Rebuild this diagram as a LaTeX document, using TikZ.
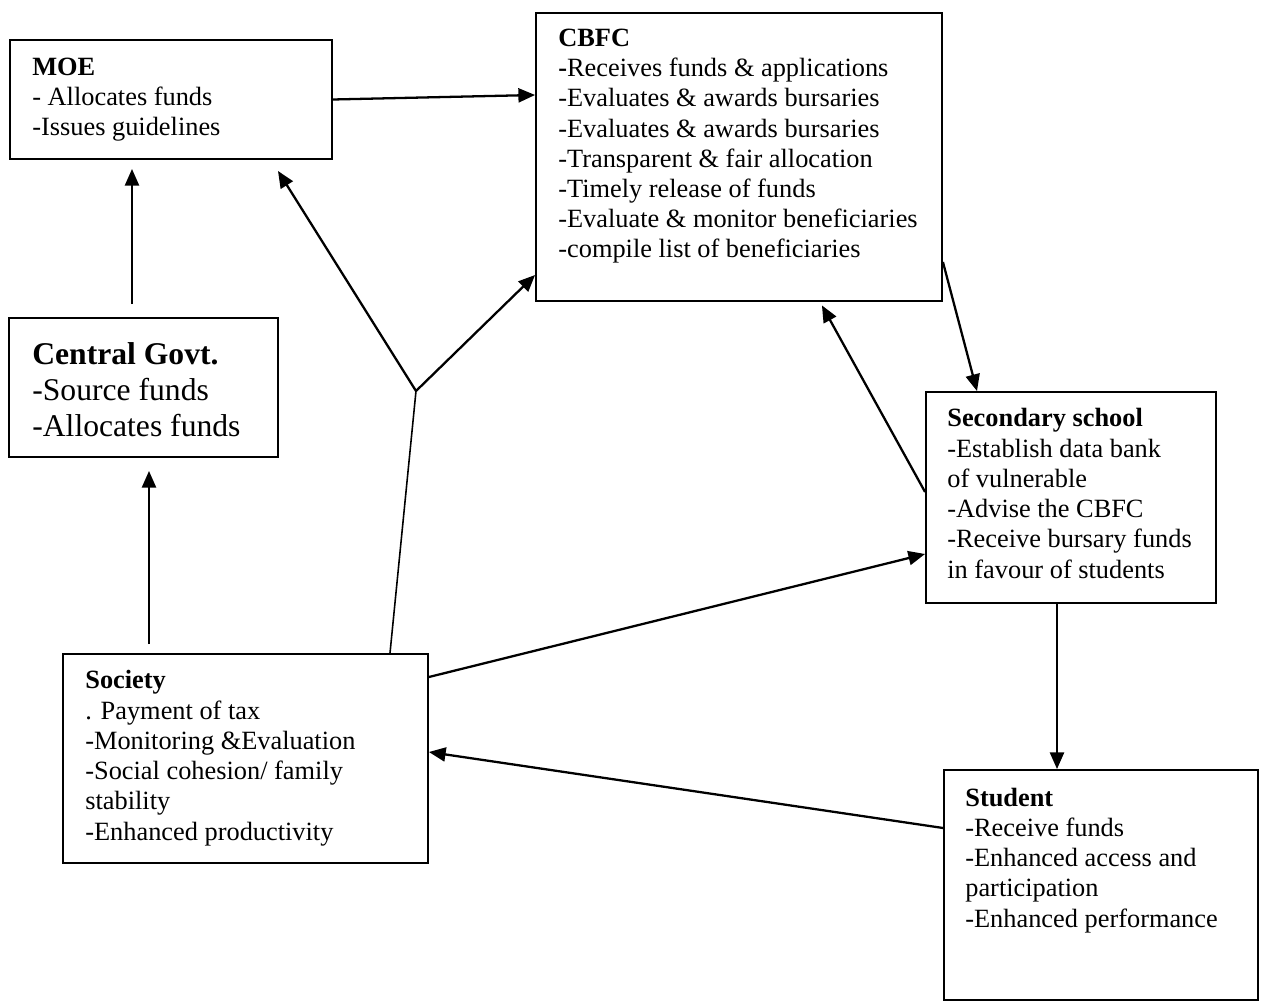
\documentclass[tikz,border=0pt]{standalone}
\usepackage{fontspec}
\setmainfont{Liberation Serif}
\usetikzlibrary{arrows.meta,calc}
\begin{document}
\begin{tikzpicture}[x=0.02cm,y=-0.02cm,
  box/.style={draw,line width=1.1pt,inner sep=0pt,rectangle},
  txt/.style={anchor=base west,inner sep=0pt,align=left,font=\fontsize{15}{17.2}\selectfont},
  bigtxt/.style={anchor=base west,inner sep=0pt,align=left,font=\fontsize{18}{20.4}\selectfont},
  arr/.style={line width=1.3pt,-{Triangle[length=9.5pt,width=8pt]}},
  stem/.style={line width=0.9pt}]
\useasboundingbox (0,0) rectangle (1264,1003);
% boxes
\node[box,minimum width=6.44cm,minimum height=2.38cm] (moe) at (171,99.5) {};
\node[box,minimum width=8.12cm,minimum height=5.76cm] (cbfc) at (739,157) {};
\node[box,minimum width=5.38cm,minimum height=2.78cm] (cg) at (143.5,387.5) {};
\node[box,minimum width=5.8cm,minimum height=4.22cm] (sec) at (1071,497.5) {};
\node[box,minimum width=7.3cm,minimum height=4.18cm] (soc) at (245.5,758.5) {};
\node[box,minimum width=6.28cm,minimum height=4.6cm] (stu) at (1101,885) {};
% texts (anchored at the baseline of the last line)
\node[txt] (moetxt) at (32,136) {\textbf{MOE}\\- Allocates funds\\-Issues guidelines};
\node[txt] (cbfctxt) at (558,258) {\textbf{CBFC}\\\textbf{-}Receives funds \& applications\\-Evaluates \& awards bursaries\\-Evaluates \& awards bursaries\\-Transparent \& fair allocation\\-Timely release of funds\\-Evaluate \& monitor beneficiaries\\-compile list of beneficiaries};
\node[bigtxt] (cgtxt) at (32,436) {\textbf{Central Govt.}\\-Source funds\\-Allocates funds};
\node[txt] (sectxt) at (947,578) {\textbf{Secondary school}\\-Establish data bank\\of vulnerable\\-Advise the CBFC\\-Receive bursary funds\\in favour of students};
\node[txt] (soctxt) at (85,840) {\textbf{Society}\\. Payment of tax\\-Monitoring \&Evaluation\\-Social cohesion/ family\\stability\\-Enhanced productivity};
\node[txt] (stutxt) at (965,927) {\textbf{Student}\\-Receive funds\\-Enhanced access and\\participation\\-Enhanced performance};
% connectors
\coordinate (j) at (416,391);
\coordinate (t1) at (278,171);
\draw[arr] (moe.east) -- (cbfc.west |- 0,95);
\draw[arr,shorten <=0.26cm,shorten >=0.18cm] (cg.north -| 132,0) -- (moe.south -| 132,0);
\draw[arr,shorten <=0.18cm,shorten >=0.26cm] (soc.north -| 149,0) -- (cg.south -| 149,0);
\draw[stem] (soc.north -| 390,0) -- (j);
\draw[arr] (j) -- (t1);
\draw[arr] (j) -- (cbfc.west |- 0,275);
\draw[arr] (cbfc.east |- 0,262) -- (sec.north -| 977,0);
\draw[arr,shorten >=0.08cm] (sec.west |- 0,492) -- (cbfc.south -| 820,0);
\draw[arr] (soc.east |- 0,677) -- (sec.west |- 0,554);
\draw[arr] (sec.south -| 1057,0) -- (stu.north -| 1057,0);
\draw[arr] (stu.west |- 0,828) -- (soc.east |- 0,752);
\end{tikzpicture}
\end{document}
